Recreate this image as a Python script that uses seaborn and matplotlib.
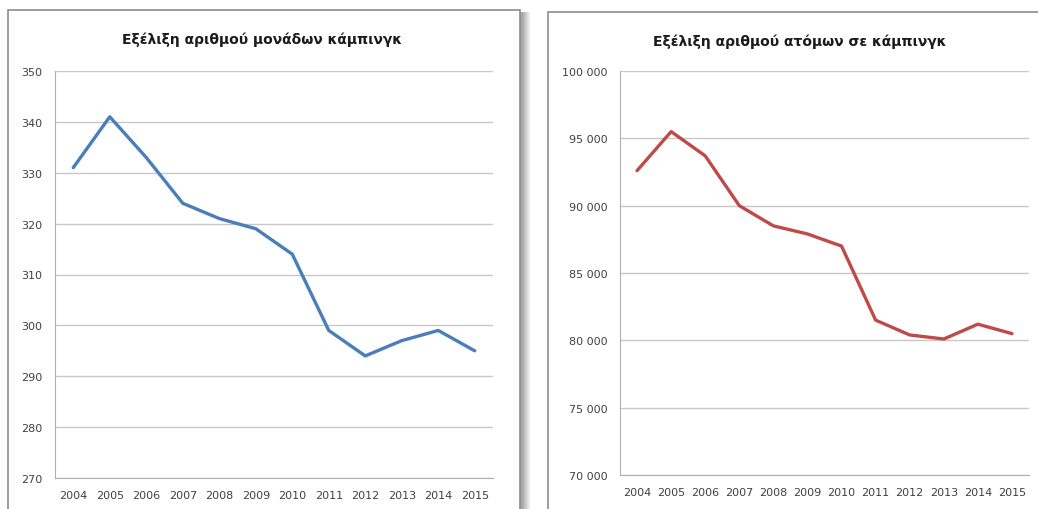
import numpy as np
import pandas as pd
import matplotlib
matplotlib.use("Agg")
import matplotlib.pyplot as plt
import matplotlib.patches as mpatches
from matplotlib.ticker import FuncFormatter
import seaborn as sns

# Data
years = [2004, 2005, 2006, 2007, 2008, 2009, 2010, 2011, 2012, 2013, 2014, 2015]
campsites = [331, 341, 333, 324, 321, 319, 314, 299, 294, 297, 299, 295]
campers = [92600, 95500, 93700, 90000, 88500, 87900, 87000, 81500, 80400, 80100, 81200, 80500]

title_left = "Εξέλιξη αριθμού μονάδων κάμπινγκ"
title_right = "Εξέλιξη αριθμού ατόμων σε κάμπινγκ"

sns.set_style("white")
plt.rcParams["font.family"] = ["DejaVu Sans"]

W, H = 1038, 510
fig = plt.figure(figsize=(W / 100, H / 100), dpi=100)


def px_axes(left, top, right, bottom):
    return fig.add_axes([left / W, 1 - bottom / H, (right - left) / W, (bottom - top) / H])


# chart-area frames, the left one with a soft shadow on its right side
for (x0, y0, x1, shadow_w) in [(8, 11, 520, 9), (548, 13, 1045, 0)]:
    for i in range(shadow_w, 0, -1):
        shade = 0.62 + 0.36 * (i / shadow_w)
        fig.patches.append(mpatches.Rectangle(
            ((x0 + 2) / W, -0.01), (x1 - x0 + i) / W, 1 - (y0 + 2) / H + 0.01,
            transform=fig.transFigure, facecolor=(shade, shade, shade),
            edgecolor="none", zorder=0))
    fig.patches.append(mpatches.Rectangle(
        (x0 / W, -0.01), (x1 - x0) / W, 1 - y0 / H + 0.01,
        transform=fig.transFigure, facecolor="white",
        edgecolor="#8c8c8c", linewidth=1.2, zorder=1))

df = pd.DataFrame({"year": years, "campsites": campsites, "campers": campers})

ax1 = px_axes(55, 72, 493, 479)
ax2 = px_axes(620, 72, 1029, 476)

sns.lineplot(data=df, x="year", y="campsites", ax=ax1, color="#4a7ebb", linewidth=2.4)
sns.lineplot(data=df, x="year", y="campers", ax=ax2, color="#be4b48", linewidth=2.4)

ax1.set_ylim(270, 350)
ax1.set_yticks(np.arange(270, 351, 10))
ax2.set_ylim(70000, 100000)
ax2.set_yticks(np.arange(70000, 100001, 5000))
ax2.yaxis.set_major_formatter(FuncFormatter(lambda v, p: f"{int(v):,}".replace(",", " ")))

for ax in (ax1, ax2):
    ax.set_zorder(2)
    ax.set_facecolor("none")
    ax.set_xlim(2003.5, 2015.5)
    ax.set_xticks(years)
    ax.set_xlabel("")
    ax.set_ylabel("")
    ax.grid(axis="y", color="#c8c8c8", linewidth=1)
    ax.grid(axis="x", visible=False)
    for s in ("top", "right"):
        ax.spines[s].set_visible(False)
    for s in ("left", "bottom"):
        ax.spines[s].set_color("#b0b0b0")
    ax.tick_params(axis="both", labelsize=8, colors="#404040", length=0, pad=9)

# category-boundary ticks on the right chart
ax2.set_xticks(np.arange(2003.5, 2016, 1), minor=True)
ax2.tick_params(axis="x", which="minor", length=4, color="#b0b0b0")

fig.text(262 / W, 1 - 40 / H, title_left, ha="center", va="center",
         fontsize=10, fontweight="bold", color="#1a1a1a")
fig.text(800 / W, 1 - 42 / H, title_right, ha="center", va="center",
         fontsize=10, fontweight="bold", color="#1a1a1a")

fig.savefig("out.png", dpi=100)
